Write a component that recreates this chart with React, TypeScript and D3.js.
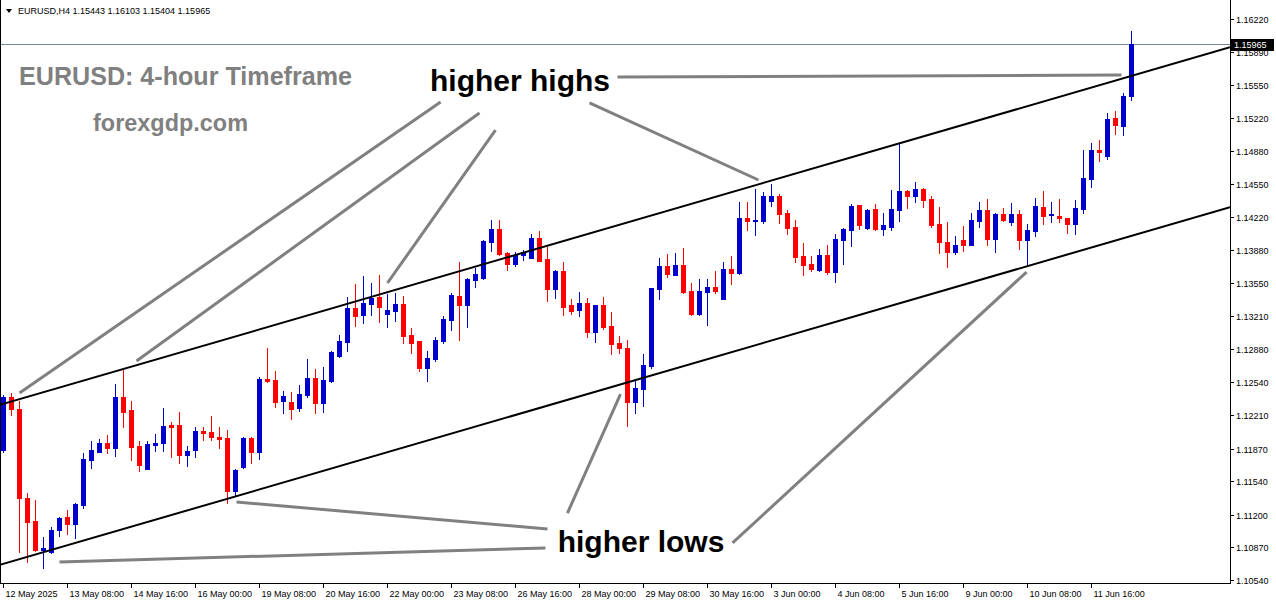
import React from 'react';
import * as d3 from 'd3';

// ---------- data ----------
const symbolHeader = 'EURUSD,H4  1.15443 1.16103 1.15404 1.15965';
const titleText = 'EURUSD: 4-hour Timeframe';
const siteText = 'forexgdp.com';

const opens = [
  1.11856, 1.12396, 1.12275, 1.11373, 1.11137, 1.10844, 1.10826, 1.11046, 1.11178, 1.11107,
  1.11299, 1.11755, 1.11836, 1.11924, 1.11879, 1.12393, 1.12261, 1.11897, 1.11667, 1.11907,
  1.11930, 1.12109, 1.12109, 1.11806, 1.11856, 1.12049, 1.12038, 1.11988, 1.11978, 1.11441,
  1.11687, 1.11978, 1.11833, 1.12575, 1.12560, 1.12355, 1.12342, 1.12278, 1.12413, 1.12582,
  1.12335, 1.12555, 1.12811, 1.12953, 1.13297, 1.13223, 1.13337, 1.13408, 1.13236, 1.13264,
  1.13334, 1.13021, 1.12960, 1.12689, 1.12781, 1.12963, 1.13172, 1.13415, 1.13327, 1.13577,
  1.13595, 1.13965, 1.14094, 1.13848, 1.13742, 1.13831, 1.13803, 1.14003, 1.13787, 1.13483,
  1.13669, 1.13324, 1.13274, 1.13348, 1.13054, 1.13324, 1.13112, 1.12936, 1.12889, 1.12345,
  1.12477, 1.12707, 1.13486, 1.13719, 1.13625, 1.13729, 1.13466, 1.13233, 1.13456, 1.13507,
  1.13385, 1.13689, 1.13651, 1.14205, 1.14175, 1.14175, 1.14377, 1.14428, 1.14256, 1.14114,
  1.13820, 1.13739, 1.13679, 1.13831, 1.13658, 1.13982, 1.14084, 1.14337, 1.14100, 1.14296,
  1.14097, 1.14114, 1.14289, 1.14482, 1.14431, 1.14499, 1.14401, 1.14144, 1.13962, 1.13864,
  1.13982, 1.13935, 1.14178, 1.14286, 1.13996, 1.14246, 1.14168, 1.14246, 1.13985, 1.14077,
  1.14317, 1.14239, 1.14225, 1.14205, 1.14147, 1.14299, 1.14603, 1.14894, 1.14836, 1.15218,
  1.15140, 1.15443,
];
const highs = [
  1.12413, 1.12436, 1.12352, 1.11418, 1.11350, 1.10978, 1.11080, 1.11181, 1.11249, 1.11323,
  1.11823, 1.11947, 1.11971, 1.12005, 1.12524, 1.12666, 1.12352, 1.11947, 1.11947, 1.12018,
  1.12278, 1.12140, 1.12238, 1.11897, 1.12092, 1.12092, 1.12200, 1.12089, 1.12056, 1.11664,
  1.11985, 1.11985, 1.12598, 1.12892, 1.12656, 1.12454, 1.12443, 1.12514, 1.12778, 1.12676,
  1.12700, 1.12854, 1.13021, 1.13402, 1.13537, 1.13618, 1.13544, 1.13628, 1.13433, 1.13443,
  1.13418, 1.13094, 1.12960, 1.12859, 1.12997, 1.13213, 1.13443, 1.13763, 1.13601, 1.13696,
  1.13982, 1.14185, 1.14185, 1.13864, 1.13864, 1.13881, 1.14040, 1.14074, 1.13915, 1.13679,
  1.13760, 1.13385, 1.13459, 1.13392, 1.13324, 1.13408, 1.13253, 1.13010, 1.12970, 1.12565,
  1.12828, 1.13493, 1.13803, 1.13841, 1.13848, 1.13898, 1.13544, 1.13585, 1.13585, 1.13669,
  1.13757, 1.13820, 1.14367, 1.14367, 1.14499, 1.14465, 1.14549, 1.14445, 1.14286, 1.14182,
  1.13949, 1.13820, 1.13891, 1.13929, 1.14040, 1.14107, 1.14347, 1.14337, 1.14300, 1.14347,
  1.14259, 1.14492, 1.14951, 1.14485, 1.14570, 1.14512, 1.14428, 1.14317, 1.14168, 1.14026,
  1.14121, 1.14259, 1.14370, 1.14401, 1.14256, 1.14309, 1.14360, 1.14286, 1.14144, 1.14408,
  1.14482, 1.14370, 1.14401, 1.14205, 1.14387, 1.14894, 1.14965, 1.14995, 1.15268, 1.15289,
  1.15474, 1.16103,
];
const lows = [
  1.11836, 1.12211, 1.10823, 1.10719, 1.10834, 1.10658, 1.10816, 1.10988, 1.11006, 1.10968,
  1.11272, 1.11677, 1.11836, 1.11829, 1.11798, 1.12092, 1.11755, 1.11644, 1.11660, 1.11849,
  1.11849, 1.11788, 1.11728, 1.11694, 1.11788, 1.11957, 1.11957, 1.11876, 1.11317, 1.11390,
  1.11674, 1.11722, 1.11762, 1.12548, 1.12295, 1.12234, 1.12170, 1.12254, 1.12393, 1.12234,
  1.12244, 1.12548, 1.12795, 1.12862, 1.13115, 1.13145, 1.13223, 1.13155, 1.13105, 1.13165,
  1.12943, 1.12841, 1.12656, 1.12558, 1.12760, 1.12943, 1.13071, 1.12970, 1.13105, 1.13504,
  1.13585, 1.13874, 1.13828, 1.13679, 1.13722, 1.13780, 1.13803, 1.13773, 1.13368, 1.13398,
  1.13223, 1.13233, 1.13213, 1.13003, 1.12953, 1.13078, 1.12831, 1.12841, 1.12102, 1.12234,
  1.12305, 1.12683, 1.13385, 1.13605, 1.13625, 1.13443, 1.13223, 1.13223, 1.13122, 1.13443,
  1.13382, 1.13537, 1.13635, 1.14084, 1.14033, 1.14158, 1.14327, 1.14158, 1.14043, 1.13760,
  1.13628, 1.13669, 1.13669, 1.13641, 1.13560, 1.13739, 1.13925, 1.14094, 1.14090, 1.14084,
  1.14033, 1.14087, 1.14178, 1.14309, 1.14370, 1.14320, 1.14111, 1.13854, 1.13712, 1.13844,
  1.13874, 1.13935, 1.14117, 1.13935, 1.13864, 1.14178, 1.14134, 1.13891, 1.13722, 1.14026,
  1.14147, 1.14168, 1.14168, 1.14056, 1.14046, 1.14259, 1.14522, 1.14785, 1.14806, 1.15059,
  1.15049, 1.15404,
];
const closes = [
  1.12396, 1.12271, 1.11373, 1.11124, 1.10844, 1.10861, 1.11046, 1.11165, 1.11107, 1.11309,
  1.11765, 1.11856, 1.11930, 1.11879, 1.12393, 1.12244, 1.11890, 1.11707, 1.11914, 1.11924,
  1.12099, 1.12092, 1.11806, 1.11846, 1.12049, 1.12031, 1.11988, 1.11971, 1.11441, 1.11654,
  1.11978, 1.11833, 1.12575, 1.12555, 1.12345, 1.12398, 1.12271, 1.12423, 1.12582, 1.12335,
  1.12565, 1.12845, 1.12960, 1.13297, 1.13216, 1.13342, 1.13398, 1.13307, 1.13274, 1.13334,
  1.13013, 1.12943, 1.12689, 1.12788, 1.12970, 1.13183, 1.13426, 1.13327, 1.13591, 1.13638,
  1.13972, 1.14094, 1.13841, 1.13742, 1.13831, 1.13864, 1.14000, 1.13773, 1.13483, 1.13669,
  1.13307, 1.13264, 1.13348, 1.13054, 1.13324, 1.13105, 1.12932, 1.12892, 1.12345, 1.12487,
  1.12717, 1.13493, 1.13719, 1.13641, 1.13729, 1.13456, 1.13233, 1.13466, 1.13507, 1.13469,
  1.13689, 1.13651, 1.14205, 1.14178, 1.14185, 1.14428, 1.14428, 1.14249, 1.14107, 1.13810,
  1.13729, 1.13692, 1.13831, 1.13658, 1.13993, 1.14094, 1.14327, 1.14137, 1.14290, 1.14094,
  1.14134, 1.14299, 1.14482, 1.14431, 1.14499, 1.14390, 1.14134, 1.13965, 1.13864, 1.13932,
  1.13935, 1.14185, 1.14286, 1.13996, 1.14246, 1.14188, 1.14246, 1.13985, 1.14084, 1.14327,
  1.14228, 1.14249, 1.14208, 1.14147, 1.14306, 1.14610, 1.14894, 1.14876, 1.15211, 1.15150,
  1.15443, 1.15965,
];

const priceTicks = [
  1.16220, 1.15890, 1.15550, 1.15220, 1.14880, 1.14550, 1.14220, 1.13880, 1.13550,
  1.13210, 1.12880, 1.12540, 1.12210, 1.11870, 1.11540, 1.11200, 1.10870, 1.10540,
];
const timeLabels = [
  '12 May 2025', '13 May 08:00', '14 May 16:00', '16 May 00:00', '19 May 08:00', '20 May 16:00',
  '22 May 00:00', '23 May 08:00', '26 May 16:00', '28 May 00:00', '29 May 08:00', '30 May 16:00',
  '3 Jun 00:00', '4 Jun 08:00', '5 Jun 16:00', '9 Jun 00:00', '10 Jun 08:00', '11 Jun 16:00',
];
const timeLabelBars = [0, 8, 16, 24, 32, 40, 48, 56, 64, 72, 80, 88, 96, 104, 112, 120, 128, 136];
const lastPrice = 1.15965;

// trend channel anchors: [bar index, price]
const channelUpper: [number, number][] = [[0, 1.12322], [141, 1.15643]];
const channelLower: [number, number][] = [[0, 1.10702], [141, 1.14023]];

// annotation pointers: [[bar, price], [bar, price]]
const highsPointers: [number, number][][] = [
  [[54.7, 1.15380], [2.06, 1.12433]],
  [[59.56, 1.15268], [16.69, 1.12757]],
  [[61.56, 1.15096], [48.06, 1.13547]],
  [[73.31, 1.15370], [94.44, 1.14590]],
  [[76.81, 1.15633], [139.81, 1.15653]],
];
const lowsPointers: [number, number][][] = [
  [[68.06, 1.11056], [29.19, 1.11330]],
  [[67.81, 1.10864], [7.06, 1.10722]],
  [[70.56, 1.11218], [77.19, 1.12423]],
  [[91.19, 1.10915], [127.94, 1.13658]],
];

// ---------- layout ----------
const W = 1276;
const H = 604;
const plotRight = 1230;
const plotBottom = 583;
const BLUE = '#0000cd';
const RED = '#ff0000';
const GRAY = '#808080';
const FONT = '"Liberation Sans", Arial, sans-serif';

export default function App() {
  const n = opens.length;
  const x = d3.scaleLinear().domain([0, n - 1]).range([3, 1131]);
  const y = d3.scaleLinear().domain([1.1054, 1.1622]).range([580, 19]);

  const lineGen = d3.line<[number, number]>().x((d) => x(d[0])).y((d) => y(d[1]));

  const extend = (a: [number, number][]): [number, number][] => {
    const [[i0, p0], [i1, p1]] = a;
    const slope = (p1 - p0) / (i1 - i0);
    const iL = x.invert(0);
    const iR = x.invert(plotRight);
    return [
      [iL, p0 + slope * (iL - i0)],
      [iR, p0 + slope * (iR - i0)],
    ];
  };

  const candles = d3.range(n).map((i) => {
    const o = opens[i], h = highs[i], l = lows[i], c = closes[i];
    const cx = Math.round(x(i));
    const color = c >= o ? BLUE : RED;
    const wy0 = Math.round(y(h));
    const wy1 = Math.round(y(l));
    const by0 = Math.round(y(Math.max(o, c)));
    const by1 = Math.round(y(Math.min(o, c)));
    return (
      <g key={i} fill={color}>
        <rect x={cx} y={wy0} width={1} height={Math.max(1, wy1 - wy0 + 1)} />
        <rect x={cx - 2} y={by0} width={5} height={Math.max(1, by1 - by0 + 1)} />
      </g>
    );
  });

  const lastY = Math.round(y(lastPrice)) + 0.5;

  return (
    <svg
      width={W}
      height={H}
      style={{ position: 'absolute', left: 0, top: 0, background: '#fff', display: 'block' }}
      fontFamily={FONT}
    >
      <defs>
        <clipPath id="plotClip">
          <rect x={1} y={0} width={plotRight - 1} height={plotBottom} />
        </clipPath>
      </defs>
      <rect x={0} y={0} width={W} height={H} fill="#fff" />

      {/* header */}
      <path d="M6,9 L12,9 L9,13 Z" fill="#000" />
      <text x={18} y={14} fontSize={9} fill="#000">{symbolHeader}</text>

      <g clipPath="url(#plotClip)">
        {/* bid line */}
        <line x1={0} x2={plotRight} y1={lastY} y2={lastY} stroke="#778899" strokeWidth={1} />
        {candles}
        <path d={lineGen(extend(channelUpper)) || ''} stroke="#000" strokeWidth={2} fill="none" />
        <path d={lineGen(extend(channelLower)) || ''} stroke="#000" strokeWidth={2} fill="none" />
        {[...highsPointers, ...lowsPointers].map((p, k) => (
          <path key={k} d={lineGen(p) || ''} stroke={GRAY} strokeWidth={3} fill="none" />
        ))}
      </g>

      {/* texts */}
      <text x={19} y={85} fontSize={25} fontWeight="bold" fill={GRAY} textLength={333} lengthAdjust="spacingAndGlyphs">{titleText}</text>
      <text x={93} y={131} fontSize={24} fontWeight="bold" fill={GRAY} textLength={155} lengthAdjust="spacingAndGlyphs">{siteText}</text>
      <text x={520} y={91} fontSize={30} fontWeight="bold" fill="#000" textAnchor="middle">higher highs</text>
      <text x={641} y={552} fontSize={30} fontWeight="bold" fill="#000" textAnchor="middle">higher lows</text>

      {/* frame */}
      <line x1={0.5} x2={0.5} y1={0} y2={plotBottom} stroke="#000" />
      <line x1={plotRight + 0.5} x2={plotRight + 0.5} y1={0} y2={plotBottom + 1} stroke="#000" />
      <line x1={0} x2={plotRight + 1} y1={plotBottom + 0.5} y2={plotBottom + 0.5} stroke="#000" />

      {/* price axis */}
      {priceTicks.map((p) => {
        const yy = Math.round(y(p)) + 0.5;
        return (
          <g key={p}>
            <line x1={plotRight} x2={plotRight + 4} y1={yy} y2={yy} stroke="#000" />
            <text x={plotRight + 6} y={yy + 3.5} fontSize={9} fill="#000">{p.toFixed(5)}</text>
          </g>
        );
      })}
      <rect x={plotRight + 1} y={Math.round(y(lastPrice)) - 5} width={43} height={12} fill="#000" />
      <text x={plotRight + 4} y={Math.round(y(lastPrice)) + 4} fontSize={9} fill="#fff">{lastPrice.toFixed(5)}</text>

      {/* time axis */}
      {timeLabelBars.map((b, k) => {
        const tx = Math.round(x(b)) + 0.5;
        return (
          <g key={b}>
            <line x1={tx} x2={tx} y1={plotBottom} y2={plotBottom + 5} stroke="#000" />
            <text x={tx + 2} y={597} fontSize={9} fill="#000">{timeLabels[k]}</text>
          </g>
        );
      })}
    </svg>
  );
}
